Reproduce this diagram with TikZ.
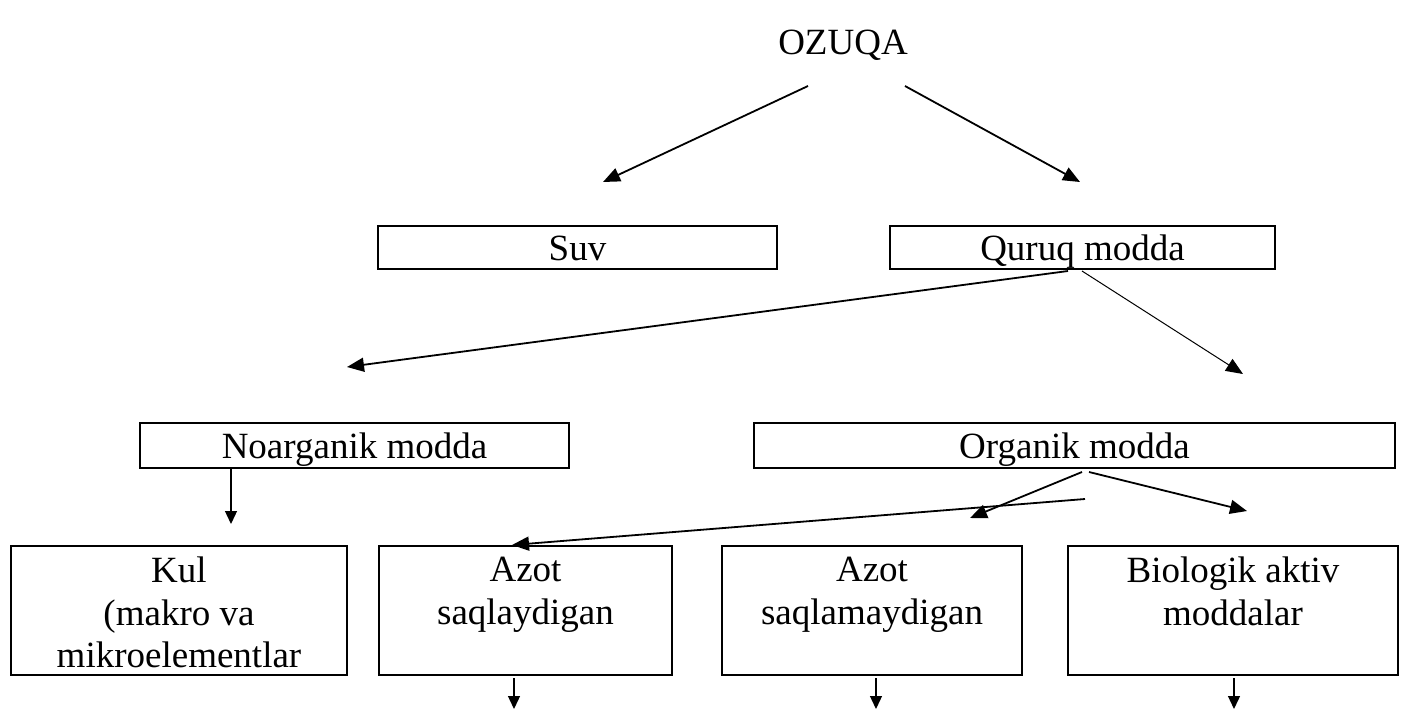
\documentclass[tikz,border=0pt]{standalone}
\usepackage{fontspec}
\setmainfont{Liberation Serif}
\usetikzlibrary{arrows.meta}
\begin{document}
\begin{tikzpicture}[x=1pt,y=-1pt,
  txt/.style={font=\fontsize{37}{42.5}\selectfont},
  box/.style={draw, line width=1.8pt, inner sep=0pt, txt, text height=25pt, text depth=0pt},
  tallbox/.style={draw, line width=1.8pt, inner sep=0pt, minimum height=129pt},
  lbl/.style={inner sep=0pt, align=center, txt, anchor=north},
  arr/.style={line width=1.8pt, -{Triangle[length=17pt,width=14pt]}},
  thinarr/.style={line width=1pt, -{Triangle[length=17pt,width=14pt]}},
  downarr/.style={line width=1.3pt, -{Triangle[length=13pt,width=12pt]}}]
\useasboundingbox (0,0) rectangle (1409,710);

% title
\node[txt, inner sep=0pt] (ozuqa) at (843,45) {OZUQA};

% level 1
\node[box, minimum width=399pt, minimum height=43pt] (suv) at (577.5,247.5) {Suv};
\node[box, minimum width=385pt, minimum height=43pt] (quruq) at (1082.5,247.5) {Quruq modda};

% level 2
\node[box, minimum width=429pt, minimum height=45pt] (noarg) at (354.5,445.5) {Noarganik modda};
\node[box, minimum width=641pt, minimum height=45pt] (organik) at (1074.5,445.5) {Organik modda};

% level 3
\node[tallbox, minimum width=336pt] (kul) at (179,610.5) {};
\node[tallbox, minimum width=293pt] (azot1) at (525.5,610.5) {};
\node[tallbox, minimum width=300pt] (azot2) at (872,610.5) {};
\node[tallbox, minimum width=330pt] (bio) at (1233,610.5) {};

\node[lbl] (kult) at ([yshift=-12pt]kul.north) {Kul\\(makro va\\mikroelementlar};
\node[lbl] (azot1t) at ([yshift=-12pt]azot1.north) {Azot\\saqlaydigan};
\node[lbl] (azot2t) at ([yshift=-12pt]azot2.north) {Azot\\saqlamaydigan};
\node[lbl] (biot) at ([yshift=-12pt]bio.north) {Biologik aktiv\\moddalar};

% free arrow ends
\coordinate (oL) at (808,86);
\coordinate (oR) at (905,86);
\coordinate (suvT) at (603,182);
\coordinate (quruqT) at (1080,182);
\coordinate (qL) at (1068,271);
\coordinate (qR) at (1082,271);
\coordinate (noargT) at (347,367);
\coordinate (organikT) at (1243,374);
\coordinate (nB) at (231,468);
\coordinate (kulT) at (231,524);
\coordinate (oA) at (1085,499);
\coordinate (azot1T) at (512,545);
\coordinate (oB) at (1082,472);
\coordinate (azot2T) at (970,518);
\coordinate (oC) at (1089,472);
\coordinate (bioT) at (1247,511);
\coordinate (a1B) at (514,678);
\coordinate (a1E) at (514,709);
\coordinate (a2B) at (876,678);
\coordinate (a2E) at (876,709);
\coordinate (bB) at (1234,678);
\coordinate (bE) at (1234,709);

\draw[arr] (oL) -- (suvT);
\draw[arr] (oR) -- (quruqT);
\draw[arr] (qL) -- (noargT);
\draw[thinarr] (qR) -- (organikT);
\draw[downarr] (nB) -- (kulT);
\draw[arr] (oA) -- (azot1T);
\draw[arr] (oB) -- (azot2T);
\draw[arr] (oC) -- (bioT);
\draw[downarr] (a1B) -- (a1E);
\draw[downarr] (a2B) -- (a2E);
\draw[downarr] (bB) -- (bE);
\end{tikzpicture}
\end{document}
